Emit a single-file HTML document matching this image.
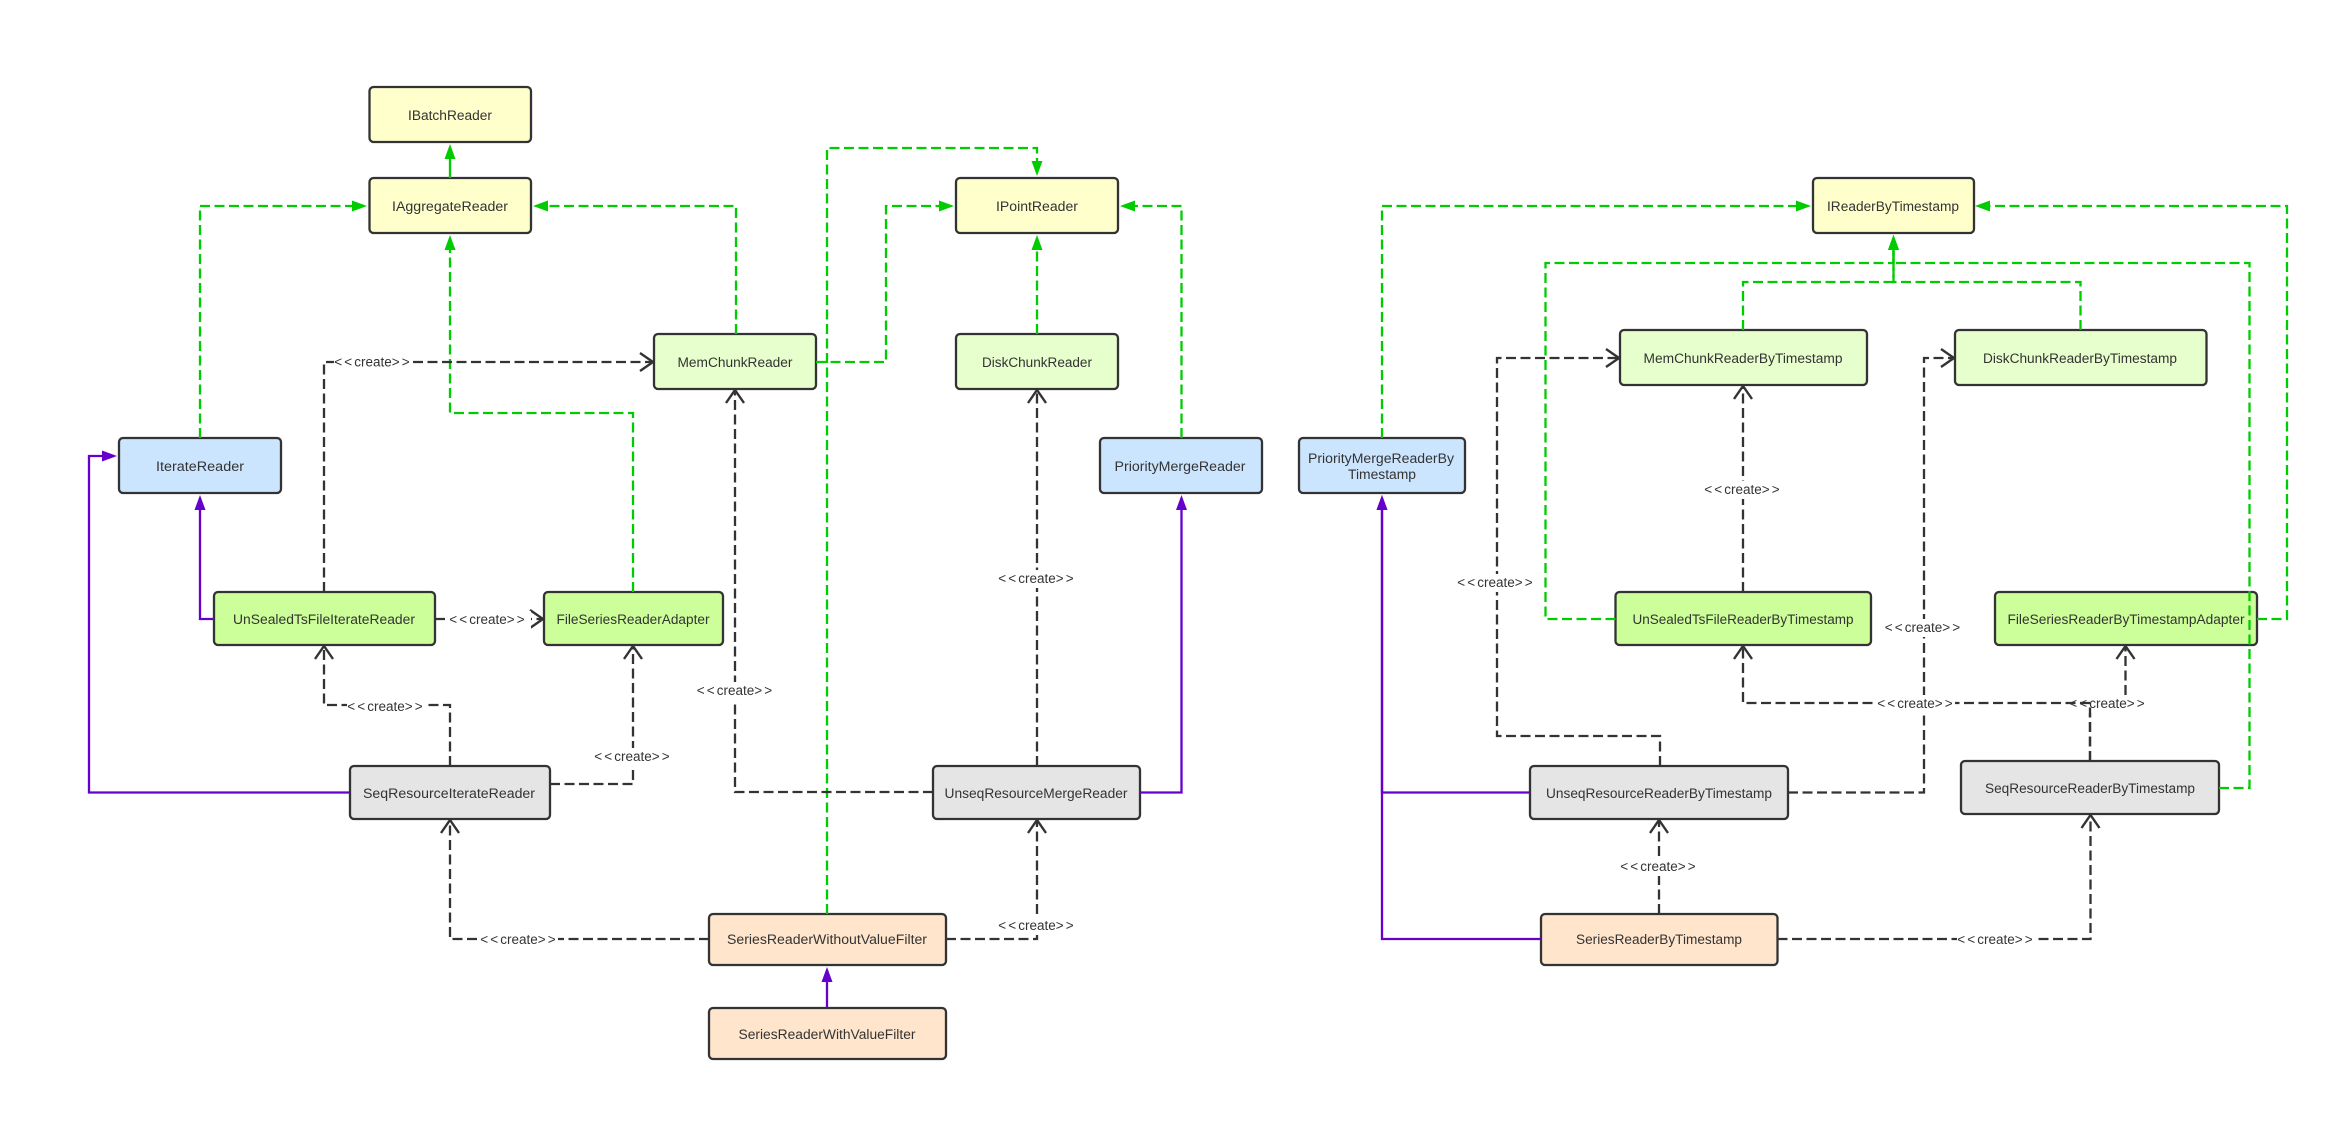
<!DOCTYPE html>
<html>
<head>
<meta charset="utf-8">
<style>
html,body{margin:0;padding:0;background:#fff;}
svg{display:block;}
text{font-family:"Liberation Sans",Arial,sans-serif;fill:#333;font-size:13.5px;text-anchor:middle;}
.s{letter-spacing:2.1px;}
.b{stroke:#333;stroke-width:2.3;}
.y{fill:#ffffcc;}.l{fill:#e6ffcc;}.m{fill:#ccff99;}.c{fill:#cce5ff;}.g{fill:#e5e5e5;}.o{fill:#ffe5cc;}
path{fill:none;stroke-linejoin:miter;}
.gd{stroke:#00cc00;stroke-width:2.3;stroke-dasharray:10 4.5;marker-end:url(#mg);}
.gs{stroke:#00cc00;stroke-width:2.3;marker-end:url(#mg);}
.ps{stroke:#6600cc;stroke-width:2.3;marker-end:url(#mp);}
.dd{stroke:#333;stroke-width:2.3;stroke-dasharray:10 4.5;marker-end:url(#md);}
.bg{fill:#fff;stroke:none;}
</style>
</head>
<body>
<svg width="2348" height="1121" viewBox="0 0 2348 1121" xmlns="http://www.w3.org/2000/svg">
<defs>
<marker id="mg" markerUnits="userSpaceOnUse" markerWidth="18" markerHeight="14" refX="12" refY="7" orient="auto"><path d="M0,1.500L15,7L0,12.500z" style="fill:#00cc00;stroke:none"/></marker>
<marker id="mp" markerUnits="userSpaceOnUse" markerWidth="18" markerHeight="14" refX="12" refY="7" orient="auto"><path d="M0,1.500L15,7L0,12.500z" style="fill:#6600cc;stroke:none"/></marker>
<marker id="md" markerUnits="userSpaceOnUse" markerWidth="18" markerHeight="24" refX="14" refY="12" orient="auto"><path d="M1,3L14,12L1,21" style="fill:none;stroke:#333;stroke-width:2.4"/></marker>
</defs>

<!-- boxes -->
<g class="b">
<rect class="y" x="369.5" y="87" width="161.500" height="55" rx="4"/>
<rect class="y" x="369.5" y="178" width="161.500" height="55" rx="4"/>
<rect class="y" x="956" y="178" width="162" height="55" rx="4"/>
<rect class="y" x="1813" y="178" width="161" height="55" rx="4"/>
<rect class="c" x="119" y="438" width="162" height="55" rx="4"/>
<rect class="c" x="1100" y="438" width="162" height="55" rx="4"/>
<rect class="c" x="1299" y="438" width="166" height="55" rx="4"/>
<rect class="l" x="654" y="334" width="162" height="55" rx="4"/>
<rect class="l" x="956" y="334" width="162" height="55" rx="4"/>
<rect class="l" x="1620" y="330" width="247" height="55" rx="4"/>
<rect class="l" x="1955" y="330" width="251.500" height="55" rx="4"/>
<rect class="m" x="214" y="592" width="221" height="53" rx="4"/>
<rect class="m" x="544" y="592" width="179" height="53" rx="4"/>
<rect class="m" x="1615.500" y="592" width="255.500" height="53" rx="4"/>
<rect class="m" x="1995" y="592" width="262" height="53" rx="4"/>
<rect class="g" x="350" y="766" width="200" height="53" rx="4"/>
<rect class="g" x="933" y="766" width="207" height="53" rx="4"/>
<rect class="g" x="1530" y="766" width="258" height="53" rx="4"/>
<rect class="g" x="1961" y="761" width="258" height="53" rx="4"/>
<rect class="o" x="709" y="914" width="237" height="51" rx="4"/>
<rect class="o" x="709" y="1008" width="237" height="51" rx="4"/>
<rect class="o" x="1541" y="914" width="236.500" height="51" rx="4"/>
</g>

<!-- left diagram connectors -->
<path class="gs" d="M450,178V147"/>
<path class="gd" d="M200,438V206H364"/>
<path class="gd" d="M736,334V206H536"/>
<path class="gd" d="M633,592V413H450V238"/>
<path class="dd" d="M324,592V362H653"/>
<rect class="bg" x="334" y="353" width="78" height="18"/>
<text x="373" y="366.500"><tspan class="s">&lt;&lt;</tspan>create<tspan class="s">&gt;&gt;</tspan></text>
<path class="gd" d="M827,914V148H1037V173"/>
<path class="gd" d="M816,362H886V206H951"/>
<path class="gd" d="M1037,334V238"/>
<path class="gd" d="M1181.500,438V206H1123"/>

<path class="ps" d="M214,619H200V498"/>
<path class="ps" d="M350,792.500H89V456H114"/>
<path class="ps" d="M1140,792.500H1181.500V498"/>
<path class="ps" d="M827,1008V970"/>

<path class="dd" d="M435,619H543"/>
<rect class="bg" x="445" y="611" width="86" height="18"/>
<text x="488" y="624"><tspan class="s">&lt;&lt;</tspan>create<tspan class="s">&gt;&gt;</tspan></text>
<path class="dd" d="M450,766V705H324V646"/>
<rect class="bg" x="347" y="698" width="78" height="18"/>
<text x="386" y="711"><tspan class="s">&lt;&lt;</tspan>create<tspan class="s">&gt;&gt;</tspan></text>
<path class="dd" d="M550,784H633V646"/>
<rect class="bg" x="594" y="748" width="78" height="18"/>
<text x="633" y="761"><tspan class="s">&lt;&lt;</tspan>create<tspan class="s">&gt;&gt;</tspan></text>
<path class="dd" d="M709,939H450V820"/>
<rect class="bg" x="480" y="931" width="78" height="18"/>
<text x="519" y="944"><tspan class="s">&lt;&lt;</tspan>create<tspan class="s">&gt;&gt;</tspan></text>
<path class="dd" d="M933,792H735V390"/>
<rect class="bg" x="696" y="682" width="79" height="18"/>
<text x="735.500" y="695"><tspan class="s">&lt;&lt;</tspan>create<tspan class="s">&gt;&gt;</tspan></text>
<path class="dd" d="M1037,766V390"/>
<rect class="bg" x="998" y="570" width="79" height="18"/>
<text x="1037" y="583"><tspan class="s">&lt;&lt;</tspan>create<tspan class="s">&gt;&gt;</tspan></text>
<path class="dd" d="M946,939H1037V820"/>
<rect class="bg" x="998" y="917" width="79" height="18"/>
<text x="1037" y="930"><tspan class="s">&lt;&lt;</tspan>create<tspan class="s">&gt;&gt;</tspan></text>

<!-- right diagram connectors -->
<path class="gd" d="M1382,438V206H1808"/>
<path class="gd" d="M1743,330V282H1893.500V238"/>
<path class="gd" d="M2080.500,330V282H1893.500V238"/>
<path class="gd" d="M1615.500,619H1545.500V263H1893.500V238"/>
<path class="gd" d="M2219,788H2249.500V263H1893.500V238"/>
<path class="gd" d="M2257,619H2287V206H1978"/>

<path class="ps" d="M1530,792.500H1382V498"/>
<path class="ps" d="M1541,939H1382V498"/>

<path class="dd" d="M1660,766V736H1497V358H1619"/>
<rect class="bg" x="1457" y="574" width="79" height="18"/>
<text x="1496" y="587"><tspan class="s">&lt;&lt;</tspan>create<tspan class="s">&gt;&gt;</tspan></text>
<path class="dd" d="M1743,592V386"/>
<rect class="bg" x="1704" y="481" width="78" height="18"/>
<text x="1743" y="494"><tspan class="s">&lt;&lt;</tspan>create<tspan class="s">&gt;&gt;</tspan></text>
<path class="dd" d="M1788,792.500H1924V358H1954"/>
<rect class="bg" x="1884" y="619" width="79" height="18"/>
<text x="1923.500" y="632"><tspan class="s">&lt;&lt;</tspan>create<tspan class="s">&gt;&gt;</tspan></text>
<path class="dd" d="M2090,761V703H2125.500V646"/>
<rect class="bg" x="2069" y="695" width="78" height="18"/>
<text x="2108" y="708"><tspan class="s">&lt;&lt;</tspan>create<tspan class="s">&gt;&gt;</tspan></text>
<path class="dd" d="M2090,761V703H1743V646"/>
<rect class="bg" x="1877" y="695" width="78" height="18"/>
<text x="1916" y="708"><tspan class="s">&lt;&lt;</tspan>create<tspan class="s">&gt;&gt;</tspan></text>
<path class="dd" d="M1659,914V820"/>
<rect class="bg" x="1620" y="858" width="78" height="18"/>
<text x="1659" y="871"><tspan class="s">&lt;&lt;</tspan>create<tspan class="s">&gt;&gt;</tspan></text>
<path class="dd" d="M1777.500,939H2090.500V815"/>
<rect class="bg" x="1957" y="931" width="78" height="18"/>
<text x="1996" y="944"><tspan class="s">&lt;&lt;</tspan>create<tspan class="s">&gt;&gt;</tspan></text>

<!-- box labels -->
<text x="450" y="120" textLength="84" lengthAdjust="spacingAndGlyphs">IBatchReader</text>
<text x="450" y="211" textLength="116" lengthAdjust="spacingAndGlyphs">IAggregateReader</text>
<text x="1037" y="211" textLength="82" lengthAdjust="spacingAndGlyphs">IPointReader</text>
<text x="1893" y="211" textLength="132" lengthAdjust="spacingAndGlyphs">IReaderByTimestamp</text>
<text x="200" y="471" textLength="88" lengthAdjust="spacingAndGlyphs">IterateReader</text>
<text x="1180" y="471" textLength="131" lengthAdjust="spacingAndGlyphs">PriorityMergeReader</text>
<text x="1381" y="463" textLength="146" lengthAdjust="spacingAndGlyphs">PriorityMergeReaderBy</text>
<text x="1382" y="479" textLength="68" lengthAdjust="spacingAndGlyphs">Timestamp</text>
<text x="735" y="367" textLength="115" lengthAdjust="spacingAndGlyphs">MemChunkReader</text>
<text x="1037" y="367" textLength="110" lengthAdjust="spacingAndGlyphs">DiskChunkReader</text>
<text x="1743" y="363" textLength="199" lengthAdjust="spacingAndGlyphs">MemChunkReaderByTimestamp</text>
<text x="2080" y="363" textLength="194" lengthAdjust="spacingAndGlyphs">DiskChunkReaderByTimestamp</text>
<text x="324" y="624" textLength="182" lengthAdjust="spacingAndGlyphs">UnSealedTsFileIterateReader</text>
<text x="633" y="624" textLength="153" lengthAdjust="spacingAndGlyphs">FileSeriesReaderAdapter</text>
<text x="1743" y="624" textLength="221" lengthAdjust="spacingAndGlyphs">UnSealedTsFileReaderByTimestamp</text>
<text x="2126" y="624" textLength="237" lengthAdjust="spacingAndGlyphs">FileSeriesReaderByTimestampAdapter</text>
<text x="449" y="798" textLength="172" lengthAdjust="spacingAndGlyphs">SeqResourceIterateReader</text>
<text x="1036" y="798" textLength="183" lengthAdjust="spacingAndGlyphs">UnseqResourceMergeReader</text>
<text x="1659" y="798" textLength="226" lengthAdjust="spacingAndGlyphs">UnseqResourceReaderByTimestamp</text>
<text x="2090" y="793" textLength="210" lengthAdjust="spacingAndGlyphs">SeqResourceReaderByTimestamp</text>
<text x="827" y="944" textLength="200" lengthAdjust="spacingAndGlyphs">SeriesReaderWithoutValueFilter</text>
<text x="827" y="1039" textLength="177" lengthAdjust="spacingAndGlyphs">SeriesReaderWithValueFilter</text>
<text x="1659" y="944" textLength="166" lengthAdjust="spacingAndGlyphs">SeriesReaderByTimestamp</text>
</svg>
</body>
</html>
